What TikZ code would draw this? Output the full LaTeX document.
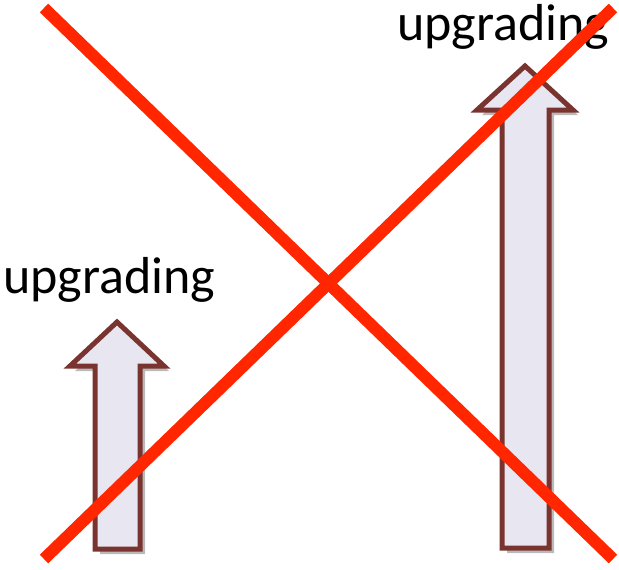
\documentclass[tikz,border=0pt]{standalone}
\usepackage{fontspec}
\newfontfamily\labelfont{Carlito}
\usetikzlibrary{positioning, shadows}

\definecolor{barline}{RGB}{122,52,48}
\definecolor{barfill}{RGB}{232,230,241}
\definecolor{crossred}{RGB}{255,38,0}

\begin{document}
\begin{tikzpicture}[x=0.02cm, y=-0.02cm,
        up_arrow/.style={draw=barline, fill=barfill, line width=5*0.02cm, line join=miter,
            drop shadow={shadow xshift=5*0.02cm, shadow yshift=-5*0.02cm, opacity=0.45, fill=black!60}},
        up_label/.style={font=\labelfont\fontsize{29.6}{36}\selectfont, inner sep=0pt, anchor=base west},
        cross_line/.style={draw=crossred, line width=12*0.02cm}]

        \useasboundingbox (0,0) rectangle (619,569);

        % Small arrow on the left
        \draw[up_arrow] (95,549) -- (95,366) -- (70,366) -- (117,322) -- (164,366) -- (140,366) -- (140,549) -- cycle;
        \node[up_label] (small_label) at (3,293) {upgrading};

        % Tall arrow on the right
        \draw[up_arrow] (502,548) -- (502,110) -- (477,110) -- (525,66) -- (573,110) -- (549,110) -- (549,548) -- cycle;
        \node[up_label] (tall_label) at (397,40) {upgrading};

        % Cross over everything
        \coordinate (cross_tl) at (44,8);
        \coordinate (cross_br) at (613,559);
        \coordinate (cross_bl) at (44,559);
        \coordinate (cross_tr) at (613,8);
        \draw[cross_line] (cross_tl) -- (cross_br);
        \draw[cross_line] (cross_bl) -- (cross_tr);
    \end{tikzpicture}
\end{document}
